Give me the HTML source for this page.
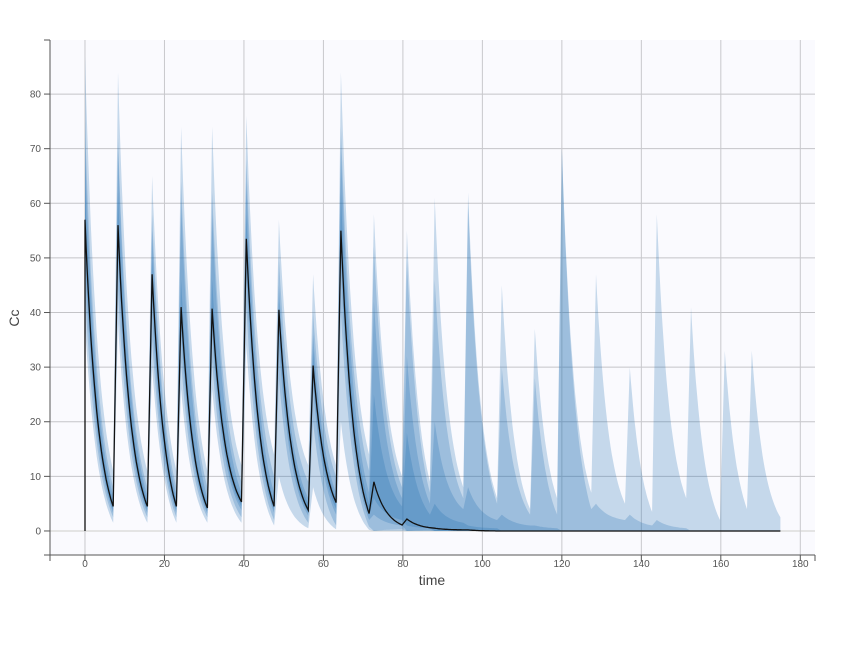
<!DOCTYPE html>
<html><head><meta charset="utf-8">
<style>
html,body{margin:0;padding:0;background:#fff;}
svg{display:block;font-family:"Liberation Sans",sans-serif;}
</style></head>
<body>
<svg id="chart" width="855" height="645" viewBox="0 0 855 645" xmlns="http://www.w3.org/2000/svg">
<rect x="50" y="40" width="765" height="515" fill="#fafafe"/>
<g id="grid"></g>
<g id="bands"></g>
<g id="axes"></g>
<text x="19" y="318" transform="rotate(-90 19 318)" text-anchor="middle" font-size="14" fill="#444">Cc</text>
<text x="432" y="585" text-anchor="middle" font-size="14" fill="#444">time</text>
</svg>
<script>
// dose times
const doseTimes = [0,8.3,16.9,24.2,32,40.6,48.8,57.4,64.4,72.7,81,88,96.4,104.9,113.2,120,128.6,137.1,143.9,152.5,161,167.8];
const endTime = 175;
// outer band (lightest)
const u1Peaks   = [87,84,65,74,74,76,57,47,84,58,55,61,62,45,37,70,47,30,58,41,33,33];
const u1Troughs = [11,11,11,11,12,14,12,12,14,10,9,8,6,4,6,7,5,3.5,6,2,4,2.5];
const l1Peaks   = [38,38,30,26,26,34,10,8,20,0,0,0,0,0,0,0,0,0,0,0,0,0];
const l1Troughs = [1.5,1.5,1.5,1.5,1.5,1,0.5,0.3,0.2,0,0,0,0,0,0,0,0,0,0,0,0,0];
// second band
const u2Peaks   = [75,72,58,64,62,68,50,40,74,52,50,46,60,30,28,70,5,3,2,0,0,0];
const u2Troughs = [8,8,8,8,9,10,9,10,11,8,7,6,5,3,3,4,2,1,0.5,0,0,0];
const l2Peaks   = [44,44,35,31,31,41,28,20,40,0,0,0,0,0,0,0,0,0,0,0,0,0];
const l2Troughs = [2.5,2.5,2.5,2.5,2.5,2,1.5,1,0.8,0.3,0,0,0,0,0,0,0,0,0,0,0,0];
// third band
const u3Peaks   = [70,70,55,60,58,64,45,36,70,42,32,20,8,3,1,0,0,0,0,0,0,0];
const u3Troughs = [6.5,6.5,6.5,6,7,7,6,7,7,6,5,4,2,1,0.5,0,0,0,0,0,0,0];
const l3Peaks   = [50,50,40,36,36,47,34,26,48,3,0,0,0,0,0,0,0,0,0,0,0,0];
const l3Troughs = [3.3,3.3,3.3,3.2,3.8,3.3,2.8,3,2,1,0.2,0,0,0,0,0,0,0,0,0,0,0];
// inner band (darkest)
const u4Peaks   = [63,62,50,46,46,58,42,33,62,25,18,5,1,0,0,0,0,0,0,0,0,0];
const u4Troughs = [5.5,5.5,5.5,5,6,5.5,5,6,5,4.5,3,1.5,0.5,0,0,0,0,0,0,0,0,0];
const l4Peaks   = [53,53,44,38,38,50,37,28,52,6,1,0,0,0,0,0,0,0,0,0,0,0];
const l4Troughs = [3.8,3.8,3.8,3.6,4.5,3.8,3.3,4,2.8,2,0.5,0,0,0,0,0,0,0,0,0,0,0];
// median
const medPeaks   = [57,56,47,41,40.7,53.5,40.5,30.3,55,9,2.2,0.5,0.2,0,0,0,0,0,0,0,0,0];
const medTroughs = [4.5,4.5,4.5,4.2,5.3,4.5,3.8,5.2,3.2,1.1,0.6,0.2,0,0,0,0,0,0,0,0,0,0];
// ticks
const xTicks = [0,20,40,60,80,100,120,140,160,180];
const yTicks = [0,10,20,30,40,50,60,70,80];

const X0=50,X1=815,Y0=555,Y1=40,xMin=-8.8,xMax=183.7,yMin=-4.4,yMax=89.9;
const xs=t=>X0+(t-xMin)/(xMax-xMin)*(X1-X0);
const ys=v=>Y0-(v-yMin)/(yMax-yMin)*(Y0-Y1);
const NS="http://www.w3.org/2000/svg";

function curve(peaks,troughs){
  const pts=[[0,0]];
  const n=doseTimes.length, k=0.3, rise=1.2;
  for(let i=0;i<n;i++){
    const t0=doseTimes[i];
    const tEnd = i<n-1 ? doseTimes[i+1]-rise : endTime;
    const p=peaks[i], r=troughs[i];
    pts.push([t0+(i===0?0.01:0),p]);
    const S=tEnd-t0, eS=Math.exp(-k*S);
    for(let j=1;j<=24;j++){
      const s=S*j/24;
      pts.push([t0+s, r+(p-r)*(Math.exp(-k*s)-eS)/(1-eS)]);
    }
  }
  return pts;
}
function bandPath(up,lo){
  const a=curve(up[0],up[1]), b=curve(lo[0],lo[1]).reverse();
  return "M"+a.concat(b).map(p=>xs(p[0]).toFixed(1)+","+ys(p[1]).toFixed(1)).join("L")+"Z";
}
const grid=document.getElementById('grid');
yTicks.forEach(v=>{
  const l=document.createElementNS(NS,'line');
  
  
  l.setAttribute('x1',X0);l.setAttribute('x2',X1);l.setAttribute('y1',ys(v));l.setAttribute('y2',ys(v));
  l.setAttribute('stroke',v===0?'#dcdcdc':'#c4c4c8');l.setAttribute('stroke-width',v===0?1.5:1);
  grid.appendChild(l);
});
xTicks.forEach(v=>{
  const l=document.createElementNS(NS,'line');
  
  
  l.setAttribute('x1',xs(v));l.setAttribute('x2',xs(v));l.setAttribute('y1',Y1);l.setAttribute('y2',Y0);
  l.setAttribute('stroke','#c8c8cc');
  grid.appendChild(l);
});
const bands=document.getElementById('bands');
const layers=[[[u1Peaks,u1Troughs],[l1Peaks,l1Troughs]],[[u2Peaks,u2Troughs],[l2Peaks,l2Troughs]],[[u3Peaks,u3Troughs],[l3Peaks,l3Troughs]],[[u4Peaks,u4Troughs],[l4Peaks,l4Troughs]]];
layers.forEach((L,i)=>{
  const p=document.createElementNS(NS,'path');
  
  
  p.setAttribute('d',bandPath(L[0],L[1]));
  p.setAttribute('fill','rgba(31,110,175,0.24)');
  bands.appendChild(p);
});
const med=document.createElementNS(NS,'path');


med.setAttribute('d',"M"+curve(medPeaks,medTroughs).map(p=>xs(p[0]).toFixed(1)+","+ys(p[1]).toFixed(1)).join("L"));
med.setAttribute('fill','none');med.setAttribute('stroke','#111');med.setAttribute('stroke-width','1.3');
bands.appendChild(med);

const axes=document.getElementById('axes');
function ln(x1,y1,x2,y2,name){
  const l=document.createElementNS(NS,'line');
  
  
  l.setAttribute('x1',x1);l.setAttribute('y1',y1);l.setAttribute('x2',x2);l.setAttribute('y2',y2);
  l.setAttribute('stroke','#555');
  axes.appendChild(l);
}
ln(X0,Y1,X0,Y0,'y-axis-line');
ln(44,Y0,X1,Y0,'x-axis-line');
ln(X0,Y0,X0,Y0+6,'x-axis-end-tick');
ln(X1,Y0,X1,Y0+6,'x-axis-end-tick');
ln(44,Y1,X0,Y1,'y-axis-end-tick');
yTicks.forEach(v=>{
  ln(44,ys(v),X0,ys(v),'y-tick');
  const t=document.createElementNS(NS,'text');
  
  
  t.setAttribute('x',41);t.setAttribute('y',ys(v)+3.5);t.setAttribute('text-anchor','end');
  t.setAttribute('font-size','10');t.setAttribute('fill','#555');t.textContent=v;
  axes.appendChild(t);
});
xTicks.forEach(v=>{
  ln(xs(v),Y0,xs(v),Y0+6,'x-tick');
  const t=document.createElementNS(NS,'text');
  
  
  t.setAttribute('x',xs(v));t.setAttribute('y',Y0+12);t.setAttribute('text-anchor','middle');
  t.setAttribute('font-size','10');t.setAttribute('fill','#555');t.textContent=v;
  axes.appendChild(t);
});
</script>
</body></html>
